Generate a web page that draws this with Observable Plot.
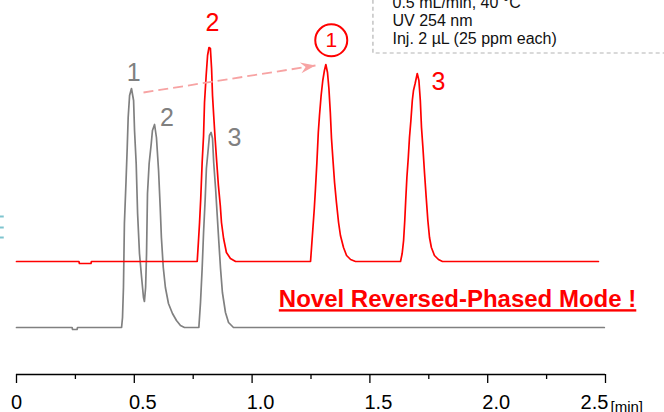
<!DOCTYPE html>
<html><head><meta charset="utf-8">
<script src="https://cdn.jsdelivr.net/npm/d3@7"></script>
<script src="https://cdn.jsdelivr.net/npm/@observablehq/plot@0.6"></script>
<style>
html,body{margin:0;padding:0;background:#fff;}
#chart{width:664px;height:412px;overflow:hidden;position:relative;}
#chart svg{font-family:"Liberation Sans",Arial,sans-serif;}
</style></head><body><div id="chart"></div>
<script>
// Retention time [min] vs. signal (arbitrary units)
const grayTrace = [
  [0,0],[0.236,0],[0.238,-1],[0.257,-1],[0.259,0],[0.446,0],
  [0.450,5],[0.454,20],[0.458,52],[0.465,73.5],[0.470,90],[0.474,105],[0.480,116],[0.488,119.5],
  [0.497,113.5],[0.501,98.5],[0.508,82],[0.514,57],[0.522,37],[0.531,25],[0.539,15],[0.543,13],
  [0.548,20],[0.552,37],[0.556,67],[0.563,82],[0.572,92],[0.577,98.5],[0.586,101.5],
  [0.594,95],[0.603,78.5],[0.610,60],[0.615,45],[0.623,30],[0.632,20],[0.645,12],[0.662,7],
  [0.679,3.5],[0.696,1],[0.713,0],[0.774,0],
  [0.781,12.5],[0.788,29.5],[0.794,47.5],[0.801,64.5],[0.806,79.5],[0.814,89.5],[0.819,96],
  [0.826,97.5],[0.832,94.5],[0.837,82.5],[0.845,69.5],[0.852,56],[0.859,42.5],[0.866,29.5],
  [0.874,17.5],[0.887,7.5],[0.900,2.5],[0.921,0],[2.495,0]
];
const redTrace = [
  [0,0],[0.265,0],[0.267,-1],[0.316,-1],[0.318,0],[0.767,0],
  [0.772,9.5],[0.777,19.5],[0.782,31.5],[0.788,49.5],[0.794,63],[0.798,79.5],[0.805,93],
  [0.811,103],[0.817,107],[0.823,106.5],[0.828,96.5],[0.832,83],[0.837,73],[0.843,61.5],
  [0.850,49.5],[0.857,38],[0.865,28],[0.870,19.5],[0.879,11.5],[0.891,4.5],[0.908,1.5],[0.930,0],
  [1.248,0],
  [1.252,6.5],[1.258,16.5],[1.264,26.5],[1.269,36.5],[1.275,49.5],[1.281,64.5],[1.286,73],
  [1.293,83],[1.300,90.5],[1.307,95.5],[1.313,98.5],[1.320,94.5],[1.326,86.5],[1.332,74.5],
  [1.337,61.5],[1.344,49.5],[1.350,39.5],[1.358,29.5],[1.367,19.5],[1.375,13],[1.388,7],
  [1.401,3],[1.418,1],[1.439,0],[1.630,0],
  [1.637,4],[1.643,10.5],[1.648,20.5],[1.652,30.5],[1.657,42],[1.663,52],[1.668,62],[1.674,70.5],
  [1.680,80.5],[1.685,85.5],[1.692,89],[1.701,94],[1.708,90.5],[1.714,80.5],[1.719,67],
  [1.725,57],[1.732,44],[1.739,32],[1.746,20.5],[1.753,12],[1.761,7],[1.774,3],[1.791,1],
  [1.808,0],[2.470,0]
];
const redOffset = 33;          // vertical stacking offset of the red chromatogram
const grayLabels = [{t:0.497,v:127.5,text:"1"},{t:0.639,v:104.8,text:"2"},{t:0.925,v:94.8,text:"3"}];
const redLabels  = [{t:0.832,v:119.2,text:"2"},{t:1.791,v:89.8,text:"3"}];
const circledLabel = [{t:1.336,v:110.6,text:"1"}];
const arrowLink = [{t1:0.539,v1:117.5,t2:1.269,v2:131}];
const majorTicks = [0,0.5,1.0,1.5,2.0,2.5];
const minorTicks = [0.25,0.75,1.25,1.75,2.25];
const tickLabels = ["0","0.5","1.0","1.5","2.0","2.5"];
const unitLabel = "[min]";
const conditions = ["0.5 mL/min, 40 °C","UV 254 nm","Inj. 2 µL (25 ppm each)"];
const conditionBox = [{t1:1.515,t2:3.0,v1:137,v2:200}];
const headline = "Novel Reversed-Phased Mode !";
const headlinePos = [{t:1.872,v:14}];
const edgeMarks = [55.5,50,45];

const RED = "#ff0000", GRAY = "#808080";
const yMin = -23.5;

const arrowHead = {
  draw(ctx, size) {
    ctx.moveTo(0,0); ctx.lineTo(-15,-5.5); ctx.lineTo(-10,0); ctx.lineTo(-15,5.5); ctx.closePath();
  }
};

const plot = Plot.plot({
  width: 664, height: 412,
  marginLeft: 16, marginRight: 59, marginTop: 0, marginBottom: 38,
  x: {domain: [0, 2.5]},
  y: {domain: [yMin, 163.5], axis: null},
  style: {fontFamily: "Liberation Sans, Arial, sans-serif", background: "#fff", overflow: "hidden"},
  marks: [
    Plot.rect(conditionBox, {x1:"t1", x2:"t2", y1:"v1", y2:"v2", fill:"none", stroke:"#b4b4b4", strokeWidth:1.2, strokeDasharray:"4,3"}),
    Plot.text([conditions.join("\n")], {frameAnchor:"top-left", text: d=>d, dx:376, dy:-6, lineAnchor:"top", lineHeight:1.15, textAnchor:"start", fontSize:16, fill:"#111"}),
    Plot.ruleY(edgeMarks, {y: d=>d, x1:-0.07, x2:-0.052, stroke:"#7ec4cf", strokeWidth:2}),
    Plot.line(grayTrace, {x: d=>d[0], y: d=>d[1], stroke: GRAY, strokeWidth: 1.7}),
    Plot.line(redTrace, {x: d=>d[0], y: d=>d[1] + redOffset, stroke: RED, strokeWidth: 1.7}),
    Plot.link(arrowLink, {x1:"t1", y1:"v1", x2:"t2", y2:"v2", stroke:"#f7a3a3", strokeWidth:1.8, strokeDasharray:"10,5"}),
    Plot.dot(arrowLink, {x:"t2", y:"v2", symbol: arrowHead, r: 5, fill:"#f7a3a3", stroke:"none", rotate:-9}),
    Plot.text(grayLabels, {x:"t", y:"v", text:"text", fill: GRAY, fontSize: 25}),
    Plot.text(redLabels, {x:"t", y: d=>d.v + redOffset, text:"text", fill: RED, fontSize: 25}),
    Plot.dot(circledLabel, {x:"t", y: d=>d.v + redOffset, r:16, stroke: RED, strokeWidth:2, fill:"none"}),
    Plot.text(circledLabel, {x:"t", y: d=>d.v + redOffset, text:"text", fill: RED, fontSize: 21}),
    Plot.text(headlinePos, {x:"t", y:"v", text: ()=>headline, fill: RED, fontSize: 24, fontWeight:"bold"}),
    Plot.ruleY([yMin], {stroke:"#000", strokeWidth:1.3}),
    Plot.axisX(majorTicks, {tickSize: 9, tickFormat: () => "", stroke:"#000", strokeWidth:1.3}),
    Plot.axisX(minorTicks, {tickSize: 5, tickFormat: () => "", stroke:"#000", strokeWidth:1.3}),
    Plot.text(majorTicks.slice(0,1), {x: d=>d, text: (d,i)=>tickLabels[i], frameAnchor:"bottom", lineAnchor:"bottom", dy:34, fontSize:20, fill:"#000"}),
    Plot.text(majorTicks.slice(1,5), {x: d=>d, text: (d,i)=>tickLabels[i+1], frameAnchor:"bottom", lineAnchor:"bottom", dy:34, dx:8.5, fontSize:20, fill:"#000"}),
    Plot.text(majorTicks.slice(5), {x: d=>d, text: ()=>tickLabels[5], frameAnchor:"bottom", lineAnchor:"bottom", dy:34, dx:-11, fontSize:20, fill:"#000"}),
    Plot.text(majorTicks.slice(5), {x: d=>d, text: ()=>unitLabel, frameAnchor:"bottom", lineAnchor:"bottom", dy:37, dx:5, textAnchor:"start", fontSize:15, fill:"#000"})
  ]
});
d3.select(plot).selectAll("text").filter(function(){ return this.textContent === headline; })
  .style("text-decoration", "underline");
document.getElementById("chart").appendChild(plot);
</script>
</body></html>
